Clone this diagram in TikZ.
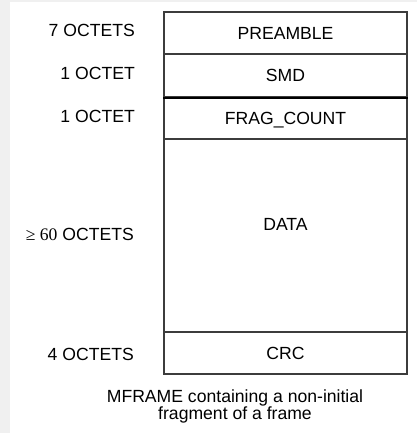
\documentclass[tikz,border=0pt]{standalone}
\usepackage{fontspec}
\setmainfont{Liberation Sans}
\newfontfamily\numfont{Liberation Serif}
\definecolor{pagegray}{HTML}{F0F0F0}
\definecolor{rulegray}{HTML}{3C3C3C}

\begin{document}
\begin{tikzpicture}[x=1pt,y=-1pt]
        \tikzset{every node/.style={font=\fontsize{17.6}{16.7}\selectfont, inner sep=0pt},
            field/.style={draw=rulegray, line width=1.3pt, minimum width=243pt,
                text height=12.6pt, text depth=0pt},
            size/.style={anchor=base east}}
        % page
        \fill[pagegray] (0,0) rectangle (417,433);
        \fill[white] (10,2) rectangle (417,433);
        \useasboundingbox (0,0) rectangle (417,433);
        % fields of the mframe
        \node[field, minimum height=42pt] (preamble) at (285.5,33) {PREAMBLE};
        \node[field, minimum height=43pt] (smd) at (285.5,75.5) {SMD};
        \node[field, minimum height=42pt] (fragcount) at (285.5,118) {FRAG\_COUNT};
        \node[field, minimum height=193pt] (data) at (285.5,235.5) {};
        \node[anchor=base] (datatext) at (285.5,230) {DATA};
        \node[field, minimum height=42pt] (crc) at (285.5,353) {CRC};
        \draw[line width=2pt] (smd.south west) -- (smd.south east);
        % sizes
        \node[size] (preamblesize) at (135,36.5) {7 OCTETS};
        \node[size] (smdsize) at (135,79.5) {1 OCTET};
        \node[size] (fragcountsize) at (135,122.5) {1 OCTET};
        \node[size] (datasize) at (134,240.5) {{\numfont ≥ 60} OCTETS};
        \node[size] (crcsize) at (134,360) {4 OCTETS};
        % caption
        \node[align=center] (caption) at (235,406.5)
            {MFRAME containing a non-initial\\fragment of a frame};
    \end{tikzpicture}
\end{document}
